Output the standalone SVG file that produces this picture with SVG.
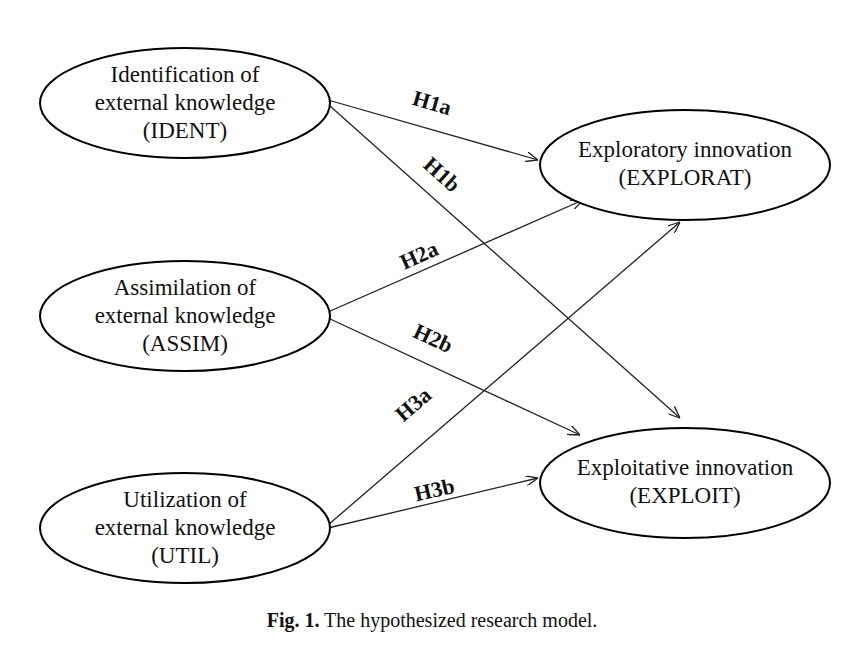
<svg xmlns="http://www.w3.org/2000/svg" width="864" height="650" viewBox="0 0 864 650">
<style>
.n ellipse{fill:#fff;stroke:#000;stroke-width:2}
text{font-family:"Liberation Serif",serif;font-size:23px;fill:#111;text-anchor:middle}
.l{font-weight:bold;font-size:22px}
.c line{stroke:#222;stroke-width:1.3;marker-end:url(#a)}
</style>
<defs><marker id="a" viewBox="0 0 12 10" refX="12" refY="5" markerWidth="12" markerHeight="10" markerUnits="userSpaceOnUse" orient="auto"><path d="M0,0 L12,5 L0,10" fill="none" stroke="#222" stroke-width="1.3"/></marker></defs>
<rect width="864" height="650" fill="#fff"/>
<g class="c">
<line x1="328" y1="100" x2="538" y2="160"/>
<line x1="330" y1="106" x2="680" y2="418"/>
<line x1="328" y1="312" x2="583" y2="200"/>
<line x1="328" y1="318" x2="580" y2="435"/>
<line x1="328" y1="525" x2="680" y2="222"/>
<line x1="328" y1="528" x2="538" y2="478"/>
<text class="l" transform="translate(430,110) rotate(16)">H1a</text>
<text class="l" transform="translate(437,180) rotate(42)">H1b</text>
<text class="l" transform="translate(422,262) rotate(-24)">H2a</text>
<text class="l" transform="translate(430,345) rotate(25)">H2b</text>
<text class="l" transform="translate(418,410) rotate(-41)">H3a</text>
<text class="l" transform="translate(436,497) rotate(-13)">H3b</text>
</g>
<g id="ident" class="n"><ellipse cx="185" cy="103" rx="145" ry="55"/><text x="185" y="82">Identification of</text><text x="185" y="110">external knowledge</text><text x="185" y="138">(IDENT)</text></g>
<g id="assim" class="n"><ellipse cx="185" cy="316" rx="145" ry="55"/><text x="185" y="295">Assimilation of</text><text x="185" y="323">external knowledge</text><text x="185" y="351">(ASSIM)</text></g>
<g id="util" class="n"><ellipse cx="185" cy="528" rx="145" ry="55"/><text x="185" y="507">Utilization of</text><text x="185" y="535">external knowledge</text><text x="185" y="563">(UTIL)</text></g>
<g id="explorat" class="n"><ellipse cx="685" cy="165" rx="145" ry="55"/><text x="685" y="157">Exploratory innovation</text><text x="685" y="185">(EXPLORAT)</text></g>
<g id="exploit" class="n"><ellipse cx="685" cy="483" rx="145" ry="55"/><text x="685" y="475">Exploitative innovation</text><text x="685" y="503">(EXPLOIT)</text></g>
<text x="432" y="627" style="font-size:20px"><tspan font-weight="bold">Fig. 1.</tspan> The hypothesized research model.</text>
</svg>
